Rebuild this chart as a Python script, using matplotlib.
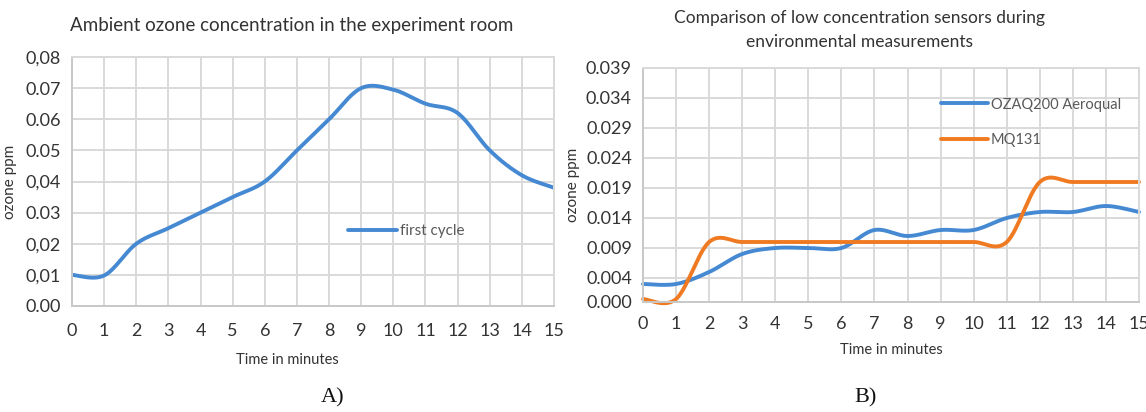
import numpy as np
import matplotlib
matplotlib.use("Agg")
import matplotlib.pyplot as plt

# ---------------- data ----------------
minutes = list(range(16))
first_cycle = [0.010, 0.0098, 0.020, 0.025, 0.030, 0.035, 0.040, 0.050,
               0.060, 0.070, 0.0695, 0.065, 0.062, 0.050, 0.042, 0.038]
a_yticks = [0.00, 0.01, 0.02, 0.03, 0.04, 0.05, 0.06, 0.07, 0.08]
a_yticklabels = ["0.00", "0,01", "0,02", "0.03", "0,04", "0.05", "0.06", "0.07", "0,08"]

ozaq200 = [0.003, 0.003, 0.005, 0.008, 0.009, 0.009, 0.009, 0.012,
           0.011, 0.012, 0.012, 0.014, 0.015, 0.015, 0.016, 0.015]
mq131 = [0.0005, 0.0005, 0.010, 0.010, 0.010, 0.010, 0.010, 0.010,
         0.010, 0.010, 0.010, 0.010, 0.020, 0.020, 0.020, 0.020]
b_yticks = [0.000, 0.004, 0.009, 0.014, 0.019, 0.024, 0.029, 0.034, 0.039]
b_yticklabels = ["0.000", "0.004", "0.009", "0.014", "0.019", "0.024", "0.029", "0.034", "0.039"]

BLUE = "#4589d3"
ORANGE = "#f07a21"
GRID = "#d9d9d9"
TXT = "#333333"
FONT = ["Lato", "DejaVu Sans"]


def smooth(x, y, n=30):
    """Excel-like smoothed line (Catmull-Rom Bezier) through the data points."""
    x = np.asarray(x, float)
    y = np.asarray(y, float)
    px = np.concatenate([[x[0]], x, [x[-1]]])
    py = np.concatenate([[y[0]], y, [y[-1]]])
    xs, ys = [], []
    t = np.linspace(0, 1, n)
    for i in range(1, len(px) - 2):
        p0 = np.array([px[i], py[i]])
        p3 = np.array([px[i + 1], py[i + 1]])
        c1 = p0 + (np.array([px[i + 1], py[i + 1]]) - np.array([px[i - 1], py[i - 1]])) / 6
        c2 = p3 - (np.array([px[i + 2], py[i + 2]]) - np.array([px[i], py[i]])) / 6
        b = ((1 - t) ** 3)[:, None] * p0 + (3 * (1 - t) ** 2 * t)[:, None] * c1 \
            + (3 * (1 - t) * t ** 2)[:, None] * c2 + (t ** 3)[:, None] * p3
        xs.append(b[:, 0])
        ys.append(b[:, 1])
    return np.concatenate(xs), np.concatenate(ys)


fig = plt.figure(figsize=(11.46, 4.12), dpi=100)
fig.patch.set_facecolor("white")


def style(ax):
    ax.set_xlim(0, 15)
    ax.set_xticks(minutes)
    ax.grid(True, color=GRID, linewidth=1.4)
    ax.set_axisbelow(True)
    for s in ["top", "right"]:
        ax.spines[s].set_color(GRID)
        ax.spines[s].set_linewidth(1.4)
    for s in ["left", "bottom"]:
        ax.spines[s].set_color("#c8c8c8")
        ax.spines[s].set_linewidth(1.4)
    ax.tick_params(length=0, colors=TXT, labelsize=13, pad=8)
    for lab in ax.get_xticklabels() + ax.get_yticklabels():
        lab.set_family(FONT)


# ---------------- chart A ----------------
axA = fig.add_axes([72 / 1146, 1 - 306 / 412, (554 - 72) / 1146, (306 - 57) / 412])
xs, ys = smooth(minutes, first_cycle)
axA.plot(xs, ys, color=BLUE, linewidth=2.8, solid_capstyle="round", label="first cycle")
axA.set_ylim(0, 0.08)
axA.set_yticks(a_yticks)
axA.set_yticklabels(a_yticklabels)
style(axA)
axA.tick_params(axis="x", pad=12)
axA.set_xlabel("Time in minutes", family=FONT, fontsize=10.5, color=TXT, labelpad=12)
axA.xaxis.set_label_coords(0.446, -0.19)
axA.set_ylabel("ozone ppm", family=FONT, fontsize=11, color=TXT, labelpad=6)
axA.set_title("Ambient ozone concentration in the experiment room", family=FONT,
              fontsize=13.5, color=TXT, pad=19, x=0.456)
legA = axA.legend(loc="center left", bbox_to_anchor=(0.545, 0.30), frameon=False,
                  handlelength=3.2, handletextpad=0.2, prop={"family": FONT, "size": 11})
for t in legA.get_texts():
    t.set_color("#595959")

# ---------------- chart B ----------------
axB = fig.add_axes([643 / 1146, 1 - 302 / 412, (1139 - 643) / 1146, (302 - 68) / 412])
xs, ys = smooth(minutes, ozaq200)
axB.plot(xs, ys, color=BLUE, linewidth=2.8, solid_capstyle="round", label="OZAQ200 Aeroqual",
         clip_on=False)
xs, ys = smooth(minutes, mq131)
axB.plot(xs, ys, color=ORANGE, linewidth=2.8, solid_capstyle="round", label="MQ131",
         clip_on=False)
axB.set_ylim(0, 0.039)
axB.set_yticks(b_yticks)
axB.set_yticklabels(b_yticklabels)
style(axB)
axB.tick_params(axis="x", pad=10)
axB.set_xlabel("Time in minutes", family=FONT, fontsize=10.5, color=TXT, labelpad=8)
axB.set_ylabel("ozone ppm", family=FONT, fontsize=11, color=TXT, labelpad=4)
axB.set_title("Comparison of low concentration sensors during\nenvironmental measurements",
              family=FONT, fontsize=12.5, color=TXT, pad=15, linespacing=1.6, x=0.4375)
legB = axB.legend(loc="upper left", bbox_to_anchor=(0.575, 0.93), frameon=False,
                  handlelength=3.2, handletextpad=0.2, labelspacing=1.45,
                  prop={"family": FONT, "size": 10.5})
for t in legB.get_texts():
    t.set_color("#595959")

# ---------------- panel labels ----------------
fig.text(333 / 1146, 1 - 398 / 412, "A)", family=["Liberation Serif", "DejaVu Serif"],
         fontsize=16, ha="center", va="center", color="#111111")
fig.text(866 / 1146, 1 - 398 / 412, "B)", family=["Liberation Serif", "DejaVu Serif"],
         fontsize=16, ha="center", va="center", color="#111111")

fig.savefig("out.png", dpi=100, facecolor="white")
